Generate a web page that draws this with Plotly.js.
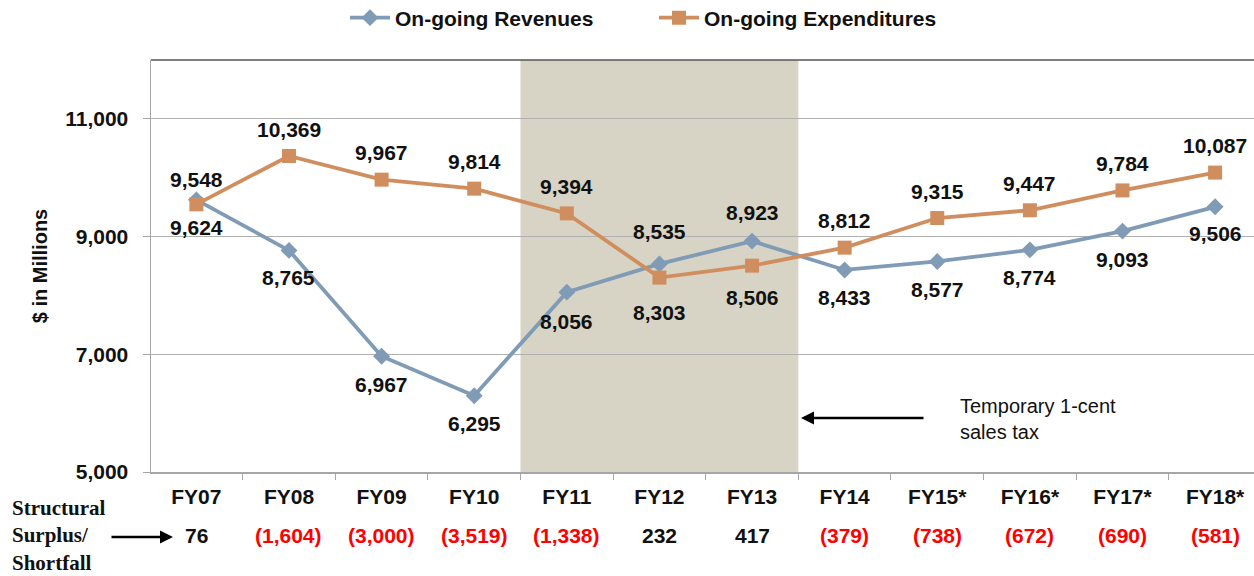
<!DOCTYPE html>
<html>
<head>
<meta charset="utf-8">
<script src="https://cdn.plot.ly/plotly-3.0.1.min.js"></script>
<style>
html,body{margin:0;padding:0;background:#fff;}
#chart{width:1254px;height:576px;}
</style>
</head>
<body>
<div id="chart"></div>
<script>
const categories = ["FY07","FY08","FY09","FY10","FY11","FY12","FY13","FY14","FY15*","FY16*","FY17*","FY18*"];
const revenues = [9624, 8765, 6967, 6295, 8056, 8535, 8923, 8433, 8577, 8774, 9093, 9506];
const expenditures = [9548, 10369, 9967, 9814, 9394, 8303, 8506, 8812, 9315, 9447, 9784, 10087];
const surplus = [76, -1604, -3000, -3519, -1338, 232, 417, -379, -738, -672, -690, -581];
const yTicks = [5000, 7000, 9000, 11000];

// label placement (pixels; negative = above the marker)
const revLabelShift = [28, 27, 28, 28, 29, -32, -29, 28, 28, 28, 28, 27];
const expLabelShift = [-25, -27, -27, -27, -27, 35, 32, -27, -27, -27, -27, -27];

const FONT = "Liberation Sans, Arial, sans-serif";
const fmt = v => v.toLocaleString("en-US");
const fmtS = v => v < 0 ? "(" + fmt(-v) + ")" : fmt(v);
const PW = 1103, PH = 412, PT = 60, PL = 151;
const px2x = p => (p - PL) / PW;
const px2y = p => (PT + PH - p) / PH;

const traces = [
  {
    x: categories, y: revenues, name: "On-going Revenues", type: "scatter", mode: "lines+markers",
    line: {color: "#7f9bb5", width: 3.8},
    marker: {symbol: "diamond", size: 13, color: "#7f9bb5"},
    cliponaxis: false, hoverinfo: "skip"
  },
  {
    x: categories, y: expenditures, name: "On-going Expenditures", type: "scatter", mode: "lines+markers",
    line: {color: "#d08e5f", width: 3.8},
    marker: {symbol: "square", size: 14, color: "#d08e5f"},
    cliponaxis: false, hoverinfo: "skip"
  }
];

const labelFont = {family: FONT, size: 21, color: "#111", weight: "bold"};
const annotations = [];
revenues.forEach((v, i) => annotations.push({
  x: categories[i], y: v, xref: "x", yref: "y", text: fmt(v), showarrow: false,
  yshift: -revLabelShift[i], font: labelFont
}));
expenditures.forEach((v, i) => annotations.push({
  x: categories[i], y: v, xref: "x", yref: "y", text: fmt(v), showarrow: false,
  yshift: -expLabelShift[i], font: labelFont
}));
surplus.forEach((v, i) => annotations.push({
  x: categories[i], xref: "x", y: px2y(535), yref: "paper", yanchor: "middle",
  text: fmtS(v), showarrow: false,
  font: {family: FONT, size: 21, color: v < 0 ? "#ff0000" : "#111", weight: "bold"}
}));

annotations.push({
  xref: "paper", yref: "paper", x: px2x(10), y: px2y(535), xanchor: "left", yanchor: "middle",
  text: "Structural<br>Surplus/<br>Shortfall", align: "left", showarrow: false,
  font: {family: "Liberation Serif, Times New Roman, serif", size: 21, color: "#111", weight: "bold"}
});
annotations.push({
  xref: "paper", yref: "paper", x: px2x(173), y: px2y(537),
  ax: px2x(110), ay: px2y(537), axref: "paper", ayref: "paper",
  text: "", showarrow: true, arrowhead: 2, arrowsize: 1, arrowwidth: 2.6, arrowcolor: "#000"
});
annotations.push({
  xref: "paper", yref: "paper", x: px2x(801), y: px2y(418),
  ax: px2x(925), ay: px2y(418), axref: "paper", ayref: "paper",
  text: "", showarrow: true, arrowhead: 2, arrowsize: 1, arrowwidth: 2.6, arrowcolor: "#000"
});
annotations.push({
  xref: "paper", yref: "paper", x: px2x(958), y: px2y(419), xanchor: "left", yanchor: "middle",
  text: "Temporary 1-cent<br>sales tax", align: "left", showarrow: false,
  font: {family: FONT, size: 20, color: "#111"}
});

const layout = {
  width: 1254, height: 576,
  margin: {l: PL, r: 0, t: PT, b: 104, autoexpand: false},
  paper_bgcolor: "#fff", plot_bgcolor: "#fff",
  font: {family: FONT, color: "#111"},
  showlegend: true,
  legend: {
    orientation: "h", x: px2x(345), xanchor: "left", y: px2y(18), yanchor: "middle",
    font: {family: FONT, size: 21, color: "#111", weight: "bold"},
    entrywidth: 254, entrywidthmode: "pixels", itemwidth: 40, tracegroupgap: 0
  },
  xaxis: {
    type: "category", range: [-0.49, 11.42], showgrid: false,
    showline: true, linecolor: "#a6a6a6", linewidth: 1.5,
    ticks: "outside", tickson: "boundaries", ticklen: 6, tickcolor: "#a6a6a6",
    ticklabelstandoff: 5,
    tickfont: {family: FONT, size: 21, color: "#111", weight: "bold"},
    fixedrange: true, automargin: false
  },
  yaxis: {
    range: [5000, 12000], tickvals: yTicks, ticktext: yTicks.map(fmt),
    showgrid: true, gridcolor: "#b0b0b0", gridwidth: 1.2,
    showline: true, linecolor: "#a6a6a6", linewidth: 1.5,
    ticks: "outside", ticklen: 7, tickcolor: "#a6a6a6",
    ticklabelstandoff: 10,
    tickfont: {family: FONT, size: 21, color: "#111", weight: "bold"},
    title: {text: "$ in Millions", font: {family: FONT, size: 20, color: "#111", weight: "bold"}, standoff: 12},
    zeroline: false, fixedrange: true, automargin: false
  },
  shapes: [
    {type: "rect", xref: "x", yref: "paper", x0: 3.5, x1: 6.5, y0: 0, y1: 1,
     fillcolor: "#d7d4c5", line: {width: 0}, layer: "below"},
    {type: "line", xref: "paper", yref: "paper", x0: 0, x1: 1, y0: 1, y1: 1,
     line: {color: "#555", width: 1.5}}
  ],
  annotations: annotations
};

Plotly.newPlot("chart", traces, layout, {displayModeBar: false, staticPlot: true});
</script>
</body>
</html>
